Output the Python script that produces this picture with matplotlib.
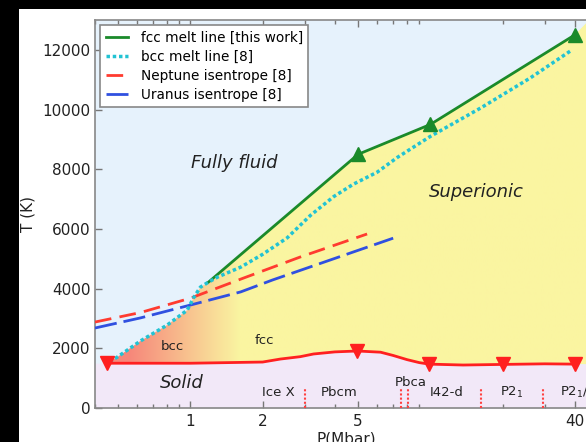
import matplotlib.pyplot as plt
import numpy as np
from matplotlib.patches import Polygon, Rectangle
from matplotlib.ticker import NullFormatter

# fcc melt line (this work)
p_fcc = [1.19, 5.0, 10.0, 40.0]
t_fcc = [4220, 8500, 9500, 12500]
p_fcc_pts = [5.0, 10.0, 40.0]
t_fcc_pts = [8500, 9500, 12500]

# bcc melt line [8]
p_bcc = [0.46, 0.49, 0.62, 0.80, 0.97, 1.03, 1.10, 1.19, 1.30, 1.62, 2.0, 2.53,
         3.16, 3.95, 4.78, 6.0, 7.3, 10.0, 16.2, 26.0, 39.0]
t_bcc = [1560, 1680, 2250, 2780, 3280, 3690, 4050, 4220, 4390, 4720, 5150, 5700,
         6450, 7080, 7500, 7900, 8400, 9100, 10050, 11050, 12000]

# planetary isentropes [8]
p_nep = [0.40, 0.62, 1.0, 1.66, 2.87, 5.45]
t_nep = [2880, 3200, 3680, 4350, 5060, 5830]
p_ura = [0.40, 0.62, 1.0, 1.62, 2.2, 7.0]
t_ura = [2680, 3020, 3450, 3890, 4290, 5690]

# solid / superionic boundary
p_solid = [0.45, 1.0, 2.0, 2.37, 2.87, 3.26, 4.0, 4.96, 6.2, 7.0, 8.0, 9.0, 9.9,
           13.7, 20.0, 30.0, 40.0]
t_solid = [1500, 1500, 1540, 1640, 1720, 1810, 1880, 1910, 1870, 1760, 1620, 1520,
           1470, 1440, 1460, 1480, 1470]
p_solid_pts = [0.45, 4.96, 9.9, 20.0, 40.0]
t_solid_pts = [1500, 1910, 1470, 1460, 1470]

# solid phase boundaries
p_phase = [3.0, 7.55, 8.05, 16.2, 29.6]
t_phase_top = 670

phase_names = ['Ice X', 'Pbcm', 'Pbca', 'I42-d', 'P2$_1$', 'P2$_1$/c']
phase_p = [2.33, 4.18, 8.25, 11.7, 21.8, 34.8]
phase_t = [536, 536, 840, 536, 536, 536]

xmin, xmax = 0.40, 50.0
ymin, ymax = 0, 13000

c_fluid = '#e6f2fc'
c_super = '#faf5a1'
c_bccreg = '#f6877a'
c_solid = '#f2e8f8'

fig = plt.figure(figsize=(5.86, 4.42), dpi=100)
fig.patch.set_facecolor('black')
fig.patches.append(Rectangle((19 / 586, 0), 1, 433 / 442, transform=fig.transFigure,
                             facecolor='white', edgecolor='none', zorder=-10))

ax = fig.add_axes([95 / 586, 34 / 442, 503 / 586, 388 / 442])
ax.set_xscale('log')
ax.set_xlim(xmin, xmax)
ax.set_ylim(ymin, ymax)
ax.set_facecolor(c_fluid)

# solid region
ax.fill_between([xmin] + p_solid + [xmax], 0, [t_solid[0]] + t_solid + [t_solid[-1]],
                color=c_solid, lw=0, zorder=1)

# superionic region, shaded from bcc (red) to fcc (yellow)
upper_p = [p for p in p_bcc if p < p_fcc[0]] + p_fcc + [xmax]
upper_t = [t for p, t in zip(p_bcc, t_bcc) if p < p_fcc[0]] + t_fcc + [13300]
lower_p = p_solid + [xmax]
lower_t = t_solid + [t_solid[-1]]
verts = np.column_stack([upper_p + lower_p[::-1], upper_t + lower_t[::-1]])
region = Polygon(verts, closed=True, facecolor='none', edgecolor='none')
ax.add_patch(region)

lx = np.log10([xmin, xmax])
x0 = (np.log10(0.55) - lx[0]) / (lx[1] - lx[0])
x1 = (np.log10(1.6) - lx[0]) / (lx[1] - lx[0])
frac = np.clip((np.linspace(0, 1, 512) - x0) / (x1 - x0), 0, 1)
ca = np.array(plt.matplotlib.colors.to_rgb(c_bccreg))
cb = np.array(plt.matplotlib.colors.to_rgb(c_super))
grad = (ca[None, :] * (1 - frac[:, None]) + cb[None, :] * frac[:, None])[None, :, :]
im = ax.imshow(grad, extent=[0, 1, 0, 1], transform=ax.transAxes, aspect='auto',
               interpolation='bilinear', zorder=2)
im.set_clip_path(region)

# curves
ax.plot(p_fcc, t_fcc, color='#1a8a2a', lw=2, zorder=5, label='fcc melt line [this work]')
ax.plot(p_fcc_pts, t_fcc_pts, ls='none', marker='^', ms=10, color='#1a8a2a', zorder=6)
ax.plot(p_bcc, t_bcc, color='#22c3d3', lw=2.5, ls=(0, (1, 0.8)), zorder=5,
        label='bcc melt line [8]')
ax.plot(p_nep, t_nep, color='#ff3b30', lw=2, dashes=(6, 3), zorder=4,
        label='Neptune isentrope [8]')
ax.plot(p_ura, t_ura, color='#3050e0', lw=2, dashes=(8, 2.5), zorder=4,
        label='Uranus isentrope [8]')
ax.plot(p_solid, t_solid, color='#ff2020', lw=2, zorder=5)
ax.plot(p_solid_pts, t_solid_pts, ls='none', marker='v', ms=10, color='#ff2020', zorder=6)

for p in p_phase:
    ax.plot([p, p], [0, t_phase_top], color='#ff4040', lw=1.5, ls=(0, (1, 1)), zorder=4)

# region labels
ax.text(1.52, 8200, 'Fully fluid', style='italic', fontsize=13, ha='center', va='center',
        color='#222222', zorder=7)
ax.text(15.6, 7240, 'Superionic', style='italic', fontsize=13, ha='center', va='center',
        color='#222222', zorder=7)
ax.text(0.92, 840, 'Solid', style='italic', fontsize=13, ha='center', va='center',
        color='#222222', zorder=7)
ax.text(0.84, 2050, 'bcc', fontsize=9.5, ha='center', va='center', color='#222222', zorder=7)
ax.text(2.03, 2245, 'fcc', fontsize=9.5, ha='center', va='center', color='#222222', zorder=7)
for name, p, t in zip(phase_names, phase_p, phase_t):
    ha = 'left' if name.endswith('/c') else 'center'
    ax.text(p, t, name, fontsize=9.5, ha=ha, va='center', color='#222222', zorder=7)

# axes styling
ax.set_xticks([1, 2, 5, 40])
ax.set_xticklabels(['1', '2', '5', '40'])
ax.xaxis.set_minor_formatter(NullFormatter())
ax.set_yticks(np.arange(0, 12001, 2000))
ax.tick_params(which='both', direction='in', top=True, right=True, color='#777777',
               labelsize=11, labelcolor='#222222')
ax.tick_params(which='major', length=5, width=1, pad=4)
ax.tick_params(which='minor', length=3, width=1)
ax.tick_params(axis='y', pad=3)
for s in ax.spines.values():
    s.set_color('#888888')
    s.set_linewidth(1.2)

ax.set_xlabel('P(Mbar)', fontsize=11, color='#222222', labelpad=2)
ax.set_ylabel('T (K)', fontsize=11, color='#222222', labelpad=5)

leg = ax.legend(loc='upper left', fontsize=9.8, handlelength=1.6, handletextpad=0.95,
                labelspacing=0.36, borderaxespad=0.4, fancybox=False, framealpha=1)
leg.get_frame().set_edgecolor('#888888')
leg.get_frame().set_linewidth(1.2)
leg.set_zorder(10)

fig.savefig('out.png', dpi=100, facecolor=fig.get_facecolor())
